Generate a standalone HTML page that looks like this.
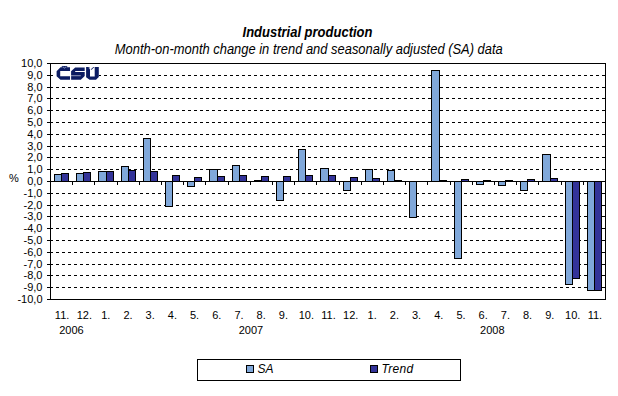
<!DOCTYPE html>
<html><head><meta charset="utf-8"><style>
html,body{margin:0;padding:0;background:#fff;}
svg{display:block;}
text{font-family:"Liberation Sans",sans-serif;}
</style></head><body>
<svg width="618" height="396" viewBox="0 0 618 396" shape-rendering="crispEdges">
<rect x="0" y="0" width="618" height="396" fill="#fff"/>
<path d="M56 287h3v1h-3zM62 287h3v1h-3zM68 287h3v1h-3zM74 287h3v1h-3zM80 287h3v1h-3zM86 287h3v1h-3zM92 287h3v1h-3zM98 287h3v1h-3zM104 287h3v1h-3zM110 287h3v1h-3zM116 287h3v1h-3zM122 287h3v1h-3zM128 287h3v1h-3zM134 287h3v1h-3zM140 287h3v1h-3zM146 287h3v1h-3zM152 287h3v1h-3zM158 287h3v1h-3zM164 287h3v1h-3zM170 287h3v1h-3zM176 287h3v1h-3zM182 287h3v1h-3zM188 287h3v1h-3zM194 287h3v1h-3zM200 287h3v1h-3zM206 287h3v1h-3zM212 287h3v1h-3zM218 287h3v1h-3zM224 287h3v1h-3zM230 287h3v1h-3zM236 287h3v1h-3zM242 287h3v1h-3zM248 287h3v1h-3zM254 287h3v1h-3zM260 287h3v1h-3zM266 287h3v1h-3zM272 287h3v1h-3zM278 287h3v1h-3zM284 287h3v1h-3zM290 287h3v1h-3zM296 287h3v1h-3zM302 287h3v1h-3zM308 287h3v1h-3zM314 287h3v1h-3zM320 287h3v1h-3zM326 287h3v1h-3zM332 287h3v1h-3zM338 287h3v1h-3zM344 287h3v1h-3zM350 287h3v1h-3zM356 287h3v1h-3zM362 287h3v1h-3zM368 287h3v1h-3zM374 287h3v1h-3zM380 287h3v1h-3zM386 287h3v1h-3zM392 287h3v1h-3zM398 287h3v1h-3zM404 287h3v1h-3zM410 287h3v1h-3zM416 287h3v1h-3zM422 287h3v1h-3zM428 287h3v1h-3zM434 287h3v1h-3zM440 287h3v1h-3zM446 287h3v1h-3zM452 287h3v1h-3zM458 287h3v1h-3zM464 287h3v1h-3zM470 287h3v1h-3zM476 287h3v1h-3zM482 287h3v1h-3zM488 287h3v1h-3zM494 287h3v1h-3zM500 287h3v1h-3zM506 287h3v1h-3zM512 287h3v1h-3zM518 287h3v1h-3zM524 287h3v1h-3zM530 287h3v1h-3zM536 287h3v1h-3zM542 287h3v1h-3zM548 287h3v1h-3zM554 287h3v1h-3zM560 287h3v1h-3zM566 287h3v1h-3zM572 287h3v1h-3zM578 287h3v1h-3zM584 287h3v1h-3zM590 287h3v1h-3zM596 287h3v1h-3zM602 287h3v1h-3z" fill="#000"/>
<path d="M56 275h3v1h-3zM62 275h3v1h-3zM68 275h3v1h-3zM74 275h3v1h-3zM80 275h3v1h-3zM86 275h3v1h-3zM92 275h3v1h-3zM98 275h3v1h-3zM104 275h3v1h-3zM110 275h3v1h-3zM116 275h3v1h-3zM122 275h3v1h-3zM128 275h3v1h-3zM134 275h3v1h-3zM140 275h3v1h-3zM146 275h3v1h-3zM152 275h3v1h-3zM158 275h3v1h-3zM164 275h3v1h-3zM170 275h3v1h-3zM176 275h3v1h-3zM182 275h3v1h-3zM188 275h3v1h-3zM194 275h3v1h-3zM200 275h3v1h-3zM206 275h3v1h-3zM212 275h3v1h-3zM218 275h3v1h-3zM224 275h3v1h-3zM230 275h3v1h-3zM236 275h3v1h-3zM242 275h3v1h-3zM248 275h3v1h-3zM254 275h3v1h-3zM260 275h3v1h-3zM266 275h3v1h-3zM272 275h3v1h-3zM278 275h3v1h-3zM284 275h3v1h-3zM290 275h3v1h-3zM296 275h3v1h-3zM302 275h3v1h-3zM308 275h3v1h-3zM314 275h3v1h-3zM320 275h3v1h-3zM326 275h3v1h-3zM332 275h3v1h-3zM338 275h3v1h-3zM344 275h3v1h-3zM350 275h3v1h-3zM356 275h3v1h-3zM362 275h3v1h-3zM368 275h3v1h-3zM374 275h3v1h-3zM380 275h3v1h-3zM386 275h3v1h-3zM392 275h3v1h-3zM398 275h3v1h-3zM404 275h3v1h-3zM410 275h3v1h-3zM416 275h3v1h-3zM422 275h3v1h-3zM428 275h3v1h-3zM434 275h3v1h-3zM440 275h3v1h-3zM446 275h3v1h-3zM452 275h3v1h-3zM458 275h3v1h-3zM464 275h3v1h-3zM470 275h3v1h-3zM476 275h3v1h-3zM482 275h3v1h-3zM488 275h3v1h-3zM494 275h3v1h-3zM500 275h3v1h-3zM506 275h3v1h-3zM512 275h3v1h-3zM518 275h3v1h-3zM524 275h3v1h-3zM530 275h3v1h-3zM536 275h3v1h-3zM542 275h3v1h-3zM548 275h3v1h-3zM554 275h3v1h-3zM560 275h3v1h-3zM566 275h3v1h-3zM572 275h3v1h-3zM578 275h3v1h-3zM584 275h3v1h-3zM590 275h3v1h-3zM596 275h3v1h-3zM602 275h3v1h-3z" fill="#000"/>
<path d="M56 264h3v1h-3zM62 264h3v1h-3zM68 264h3v1h-3zM74 264h3v1h-3zM80 264h3v1h-3zM86 264h3v1h-3zM92 264h3v1h-3zM98 264h3v1h-3zM104 264h3v1h-3zM110 264h3v1h-3zM116 264h3v1h-3zM122 264h3v1h-3zM128 264h3v1h-3zM134 264h3v1h-3zM140 264h3v1h-3zM146 264h3v1h-3zM152 264h3v1h-3zM158 264h3v1h-3zM164 264h3v1h-3zM170 264h3v1h-3zM176 264h3v1h-3zM182 264h3v1h-3zM188 264h3v1h-3zM194 264h3v1h-3zM200 264h3v1h-3zM206 264h3v1h-3zM212 264h3v1h-3zM218 264h3v1h-3zM224 264h3v1h-3zM230 264h3v1h-3zM236 264h3v1h-3zM242 264h3v1h-3zM248 264h3v1h-3zM254 264h3v1h-3zM260 264h3v1h-3zM266 264h3v1h-3zM272 264h3v1h-3zM278 264h3v1h-3zM284 264h3v1h-3zM290 264h3v1h-3zM296 264h3v1h-3zM302 264h3v1h-3zM308 264h3v1h-3zM314 264h3v1h-3zM320 264h3v1h-3zM326 264h3v1h-3zM332 264h3v1h-3zM338 264h3v1h-3zM344 264h3v1h-3zM350 264h3v1h-3zM356 264h3v1h-3zM362 264h3v1h-3zM368 264h3v1h-3zM374 264h3v1h-3zM380 264h3v1h-3zM386 264h3v1h-3zM392 264h3v1h-3zM398 264h3v1h-3zM404 264h3v1h-3zM410 264h3v1h-3zM416 264h3v1h-3zM422 264h3v1h-3zM428 264h3v1h-3zM434 264h3v1h-3zM440 264h3v1h-3zM446 264h3v1h-3zM452 264h3v1h-3zM458 264h3v1h-3zM464 264h3v1h-3zM470 264h3v1h-3zM476 264h3v1h-3zM482 264h3v1h-3zM488 264h3v1h-3zM494 264h3v1h-3zM500 264h3v1h-3zM506 264h3v1h-3zM512 264h3v1h-3zM518 264h3v1h-3zM524 264h3v1h-3zM530 264h3v1h-3zM536 264h3v1h-3zM542 264h3v1h-3zM548 264h3v1h-3zM554 264h3v1h-3zM560 264h3v1h-3zM566 264h3v1h-3zM572 264h3v1h-3zM578 264h3v1h-3zM584 264h3v1h-3zM590 264h3v1h-3zM596 264h3v1h-3zM602 264h3v1h-3z" fill="#000"/>
<path d="M56 252h3v1h-3zM62 252h3v1h-3zM68 252h3v1h-3zM74 252h3v1h-3zM80 252h3v1h-3zM86 252h3v1h-3zM92 252h3v1h-3zM98 252h3v1h-3zM104 252h3v1h-3zM110 252h3v1h-3zM116 252h3v1h-3zM122 252h3v1h-3zM128 252h3v1h-3zM134 252h3v1h-3zM140 252h3v1h-3zM146 252h3v1h-3zM152 252h3v1h-3zM158 252h3v1h-3zM164 252h3v1h-3zM170 252h3v1h-3zM176 252h3v1h-3zM182 252h3v1h-3zM188 252h3v1h-3zM194 252h3v1h-3zM200 252h3v1h-3zM206 252h3v1h-3zM212 252h3v1h-3zM218 252h3v1h-3zM224 252h3v1h-3zM230 252h3v1h-3zM236 252h3v1h-3zM242 252h3v1h-3zM248 252h3v1h-3zM254 252h3v1h-3zM260 252h3v1h-3zM266 252h3v1h-3zM272 252h3v1h-3zM278 252h3v1h-3zM284 252h3v1h-3zM290 252h3v1h-3zM296 252h3v1h-3zM302 252h3v1h-3zM308 252h3v1h-3zM314 252h3v1h-3zM320 252h3v1h-3zM326 252h3v1h-3zM332 252h3v1h-3zM338 252h3v1h-3zM344 252h3v1h-3zM350 252h3v1h-3zM356 252h3v1h-3zM362 252h3v1h-3zM368 252h3v1h-3zM374 252h3v1h-3zM380 252h3v1h-3zM386 252h3v1h-3zM392 252h3v1h-3zM398 252h3v1h-3zM404 252h3v1h-3zM410 252h3v1h-3zM416 252h3v1h-3zM422 252h3v1h-3zM428 252h3v1h-3zM434 252h3v1h-3zM440 252h3v1h-3zM446 252h3v1h-3zM452 252h3v1h-3zM458 252h3v1h-3zM464 252h3v1h-3zM470 252h3v1h-3zM476 252h3v1h-3zM482 252h3v1h-3zM488 252h3v1h-3zM494 252h3v1h-3zM500 252h3v1h-3zM506 252h3v1h-3zM512 252h3v1h-3zM518 252h3v1h-3zM524 252h3v1h-3zM530 252h3v1h-3zM536 252h3v1h-3zM542 252h3v1h-3zM548 252h3v1h-3zM554 252h3v1h-3zM560 252h3v1h-3zM566 252h3v1h-3zM572 252h3v1h-3zM578 252h3v1h-3zM584 252h3v1h-3zM590 252h3v1h-3zM596 252h3v1h-3zM602 252h3v1h-3z" fill="#000"/>
<path d="M56 240h3v1h-3zM62 240h3v1h-3zM68 240h3v1h-3zM74 240h3v1h-3zM80 240h3v1h-3zM86 240h3v1h-3zM92 240h3v1h-3zM98 240h3v1h-3zM104 240h3v1h-3zM110 240h3v1h-3zM116 240h3v1h-3zM122 240h3v1h-3zM128 240h3v1h-3zM134 240h3v1h-3zM140 240h3v1h-3zM146 240h3v1h-3zM152 240h3v1h-3zM158 240h3v1h-3zM164 240h3v1h-3zM170 240h3v1h-3zM176 240h3v1h-3zM182 240h3v1h-3zM188 240h3v1h-3zM194 240h3v1h-3zM200 240h3v1h-3zM206 240h3v1h-3zM212 240h3v1h-3zM218 240h3v1h-3zM224 240h3v1h-3zM230 240h3v1h-3zM236 240h3v1h-3zM242 240h3v1h-3zM248 240h3v1h-3zM254 240h3v1h-3zM260 240h3v1h-3zM266 240h3v1h-3zM272 240h3v1h-3zM278 240h3v1h-3zM284 240h3v1h-3zM290 240h3v1h-3zM296 240h3v1h-3zM302 240h3v1h-3zM308 240h3v1h-3zM314 240h3v1h-3zM320 240h3v1h-3zM326 240h3v1h-3zM332 240h3v1h-3zM338 240h3v1h-3zM344 240h3v1h-3zM350 240h3v1h-3zM356 240h3v1h-3zM362 240h3v1h-3zM368 240h3v1h-3zM374 240h3v1h-3zM380 240h3v1h-3zM386 240h3v1h-3zM392 240h3v1h-3zM398 240h3v1h-3zM404 240h3v1h-3zM410 240h3v1h-3zM416 240h3v1h-3zM422 240h3v1h-3zM428 240h3v1h-3zM434 240h3v1h-3zM440 240h3v1h-3zM446 240h3v1h-3zM452 240h3v1h-3zM458 240h3v1h-3zM464 240h3v1h-3zM470 240h3v1h-3zM476 240h3v1h-3zM482 240h3v1h-3zM488 240h3v1h-3zM494 240h3v1h-3zM500 240h3v1h-3zM506 240h3v1h-3zM512 240h3v1h-3zM518 240h3v1h-3zM524 240h3v1h-3zM530 240h3v1h-3zM536 240h3v1h-3zM542 240h3v1h-3zM548 240h3v1h-3zM554 240h3v1h-3zM560 240h3v1h-3zM566 240h3v1h-3zM572 240h3v1h-3zM578 240h3v1h-3zM584 240h3v1h-3zM590 240h3v1h-3zM596 240h3v1h-3zM602 240h3v1h-3z" fill="#000"/>
<path d="M56 228h3v1h-3zM62 228h3v1h-3zM68 228h3v1h-3zM74 228h3v1h-3zM80 228h3v1h-3zM86 228h3v1h-3zM92 228h3v1h-3zM98 228h3v1h-3zM104 228h3v1h-3zM110 228h3v1h-3zM116 228h3v1h-3zM122 228h3v1h-3zM128 228h3v1h-3zM134 228h3v1h-3zM140 228h3v1h-3zM146 228h3v1h-3zM152 228h3v1h-3zM158 228h3v1h-3zM164 228h3v1h-3zM170 228h3v1h-3zM176 228h3v1h-3zM182 228h3v1h-3zM188 228h3v1h-3zM194 228h3v1h-3zM200 228h3v1h-3zM206 228h3v1h-3zM212 228h3v1h-3zM218 228h3v1h-3zM224 228h3v1h-3zM230 228h3v1h-3zM236 228h3v1h-3zM242 228h3v1h-3zM248 228h3v1h-3zM254 228h3v1h-3zM260 228h3v1h-3zM266 228h3v1h-3zM272 228h3v1h-3zM278 228h3v1h-3zM284 228h3v1h-3zM290 228h3v1h-3zM296 228h3v1h-3zM302 228h3v1h-3zM308 228h3v1h-3zM314 228h3v1h-3zM320 228h3v1h-3zM326 228h3v1h-3zM332 228h3v1h-3zM338 228h3v1h-3zM344 228h3v1h-3zM350 228h3v1h-3zM356 228h3v1h-3zM362 228h3v1h-3zM368 228h3v1h-3zM374 228h3v1h-3zM380 228h3v1h-3zM386 228h3v1h-3zM392 228h3v1h-3zM398 228h3v1h-3zM404 228h3v1h-3zM410 228h3v1h-3zM416 228h3v1h-3zM422 228h3v1h-3zM428 228h3v1h-3zM434 228h3v1h-3zM440 228h3v1h-3zM446 228h3v1h-3zM452 228h3v1h-3zM458 228h3v1h-3zM464 228h3v1h-3zM470 228h3v1h-3zM476 228h3v1h-3zM482 228h3v1h-3zM488 228h3v1h-3zM494 228h3v1h-3zM500 228h3v1h-3zM506 228h3v1h-3zM512 228h3v1h-3zM518 228h3v1h-3zM524 228h3v1h-3zM530 228h3v1h-3zM536 228h3v1h-3zM542 228h3v1h-3zM548 228h3v1h-3zM554 228h3v1h-3zM560 228h3v1h-3zM566 228h3v1h-3zM572 228h3v1h-3zM578 228h3v1h-3zM584 228h3v1h-3zM590 228h3v1h-3zM596 228h3v1h-3zM602 228h3v1h-3z" fill="#000"/>
<path d="M56 216h3v1h-3zM62 216h3v1h-3zM68 216h3v1h-3zM74 216h3v1h-3zM80 216h3v1h-3zM86 216h3v1h-3zM92 216h3v1h-3zM98 216h3v1h-3zM104 216h3v1h-3zM110 216h3v1h-3zM116 216h3v1h-3zM122 216h3v1h-3zM128 216h3v1h-3zM134 216h3v1h-3zM140 216h3v1h-3zM146 216h3v1h-3zM152 216h3v1h-3zM158 216h3v1h-3zM164 216h3v1h-3zM170 216h3v1h-3zM176 216h3v1h-3zM182 216h3v1h-3zM188 216h3v1h-3zM194 216h3v1h-3zM200 216h3v1h-3zM206 216h3v1h-3zM212 216h3v1h-3zM218 216h3v1h-3zM224 216h3v1h-3zM230 216h3v1h-3zM236 216h3v1h-3zM242 216h3v1h-3zM248 216h3v1h-3zM254 216h3v1h-3zM260 216h3v1h-3zM266 216h3v1h-3zM272 216h3v1h-3zM278 216h3v1h-3zM284 216h3v1h-3zM290 216h3v1h-3zM296 216h3v1h-3zM302 216h3v1h-3zM308 216h3v1h-3zM314 216h3v1h-3zM320 216h3v1h-3zM326 216h3v1h-3zM332 216h3v1h-3zM338 216h3v1h-3zM344 216h3v1h-3zM350 216h3v1h-3zM356 216h3v1h-3zM362 216h3v1h-3zM368 216h3v1h-3zM374 216h3v1h-3zM380 216h3v1h-3zM386 216h3v1h-3zM392 216h3v1h-3zM398 216h3v1h-3zM404 216h3v1h-3zM410 216h3v1h-3zM416 216h3v1h-3zM422 216h3v1h-3zM428 216h3v1h-3zM434 216h3v1h-3zM440 216h3v1h-3zM446 216h3v1h-3zM452 216h3v1h-3zM458 216h3v1h-3zM464 216h3v1h-3zM470 216h3v1h-3zM476 216h3v1h-3zM482 216h3v1h-3zM488 216h3v1h-3zM494 216h3v1h-3zM500 216h3v1h-3zM506 216h3v1h-3zM512 216h3v1h-3zM518 216h3v1h-3zM524 216h3v1h-3zM530 216h3v1h-3zM536 216h3v1h-3zM542 216h3v1h-3zM548 216h3v1h-3zM554 216h3v1h-3zM560 216h3v1h-3zM566 216h3v1h-3zM572 216h3v1h-3zM578 216h3v1h-3zM584 216h3v1h-3zM590 216h3v1h-3zM596 216h3v1h-3zM602 216h3v1h-3z" fill="#000"/>
<path d="M56 205h3v1h-3zM62 205h3v1h-3zM68 205h3v1h-3zM74 205h3v1h-3zM80 205h3v1h-3zM86 205h3v1h-3zM92 205h3v1h-3zM98 205h3v1h-3zM104 205h3v1h-3zM110 205h3v1h-3zM116 205h3v1h-3zM122 205h3v1h-3zM128 205h3v1h-3zM134 205h3v1h-3zM140 205h3v1h-3zM146 205h3v1h-3zM152 205h3v1h-3zM158 205h3v1h-3zM164 205h3v1h-3zM170 205h3v1h-3zM176 205h3v1h-3zM182 205h3v1h-3zM188 205h3v1h-3zM194 205h3v1h-3zM200 205h3v1h-3zM206 205h3v1h-3zM212 205h3v1h-3zM218 205h3v1h-3zM224 205h3v1h-3zM230 205h3v1h-3zM236 205h3v1h-3zM242 205h3v1h-3zM248 205h3v1h-3zM254 205h3v1h-3zM260 205h3v1h-3zM266 205h3v1h-3zM272 205h3v1h-3zM278 205h3v1h-3zM284 205h3v1h-3zM290 205h3v1h-3zM296 205h3v1h-3zM302 205h3v1h-3zM308 205h3v1h-3zM314 205h3v1h-3zM320 205h3v1h-3zM326 205h3v1h-3zM332 205h3v1h-3zM338 205h3v1h-3zM344 205h3v1h-3zM350 205h3v1h-3zM356 205h3v1h-3zM362 205h3v1h-3zM368 205h3v1h-3zM374 205h3v1h-3zM380 205h3v1h-3zM386 205h3v1h-3zM392 205h3v1h-3zM398 205h3v1h-3zM404 205h3v1h-3zM410 205h3v1h-3zM416 205h3v1h-3zM422 205h3v1h-3zM428 205h3v1h-3zM434 205h3v1h-3zM440 205h3v1h-3zM446 205h3v1h-3zM452 205h3v1h-3zM458 205h3v1h-3zM464 205h3v1h-3zM470 205h3v1h-3zM476 205h3v1h-3zM482 205h3v1h-3zM488 205h3v1h-3zM494 205h3v1h-3zM500 205h3v1h-3zM506 205h3v1h-3zM512 205h3v1h-3zM518 205h3v1h-3zM524 205h3v1h-3zM530 205h3v1h-3zM536 205h3v1h-3zM542 205h3v1h-3zM548 205h3v1h-3zM554 205h3v1h-3zM560 205h3v1h-3zM566 205h3v1h-3zM572 205h3v1h-3zM578 205h3v1h-3zM584 205h3v1h-3zM590 205h3v1h-3zM596 205h3v1h-3zM602 205h3v1h-3z" fill="#000"/>
<path d="M56 193h3v1h-3zM62 193h3v1h-3zM68 193h3v1h-3zM74 193h3v1h-3zM80 193h3v1h-3zM86 193h3v1h-3zM92 193h3v1h-3zM98 193h3v1h-3zM104 193h3v1h-3zM110 193h3v1h-3zM116 193h3v1h-3zM122 193h3v1h-3zM128 193h3v1h-3zM134 193h3v1h-3zM140 193h3v1h-3zM146 193h3v1h-3zM152 193h3v1h-3zM158 193h3v1h-3zM164 193h3v1h-3zM170 193h3v1h-3zM176 193h3v1h-3zM182 193h3v1h-3zM188 193h3v1h-3zM194 193h3v1h-3zM200 193h3v1h-3zM206 193h3v1h-3zM212 193h3v1h-3zM218 193h3v1h-3zM224 193h3v1h-3zM230 193h3v1h-3zM236 193h3v1h-3zM242 193h3v1h-3zM248 193h3v1h-3zM254 193h3v1h-3zM260 193h3v1h-3zM266 193h3v1h-3zM272 193h3v1h-3zM278 193h3v1h-3zM284 193h3v1h-3zM290 193h3v1h-3zM296 193h3v1h-3zM302 193h3v1h-3zM308 193h3v1h-3zM314 193h3v1h-3zM320 193h3v1h-3zM326 193h3v1h-3zM332 193h3v1h-3zM338 193h3v1h-3zM344 193h3v1h-3zM350 193h3v1h-3zM356 193h3v1h-3zM362 193h3v1h-3zM368 193h3v1h-3zM374 193h3v1h-3zM380 193h3v1h-3zM386 193h3v1h-3zM392 193h3v1h-3zM398 193h3v1h-3zM404 193h3v1h-3zM410 193h3v1h-3zM416 193h3v1h-3zM422 193h3v1h-3zM428 193h3v1h-3zM434 193h3v1h-3zM440 193h3v1h-3zM446 193h3v1h-3zM452 193h3v1h-3zM458 193h3v1h-3zM464 193h3v1h-3zM470 193h3v1h-3zM476 193h3v1h-3zM482 193h3v1h-3zM488 193h3v1h-3zM494 193h3v1h-3zM500 193h3v1h-3zM506 193h3v1h-3zM512 193h3v1h-3zM518 193h3v1h-3zM524 193h3v1h-3zM530 193h3v1h-3zM536 193h3v1h-3zM542 193h3v1h-3zM548 193h3v1h-3zM554 193h3v1h-3zM560 193h3v1h-3zM566 193h3v1h-3zM572 193h3v1h-3zM578 193h3v1h-3zM584 193h3v1h-3zM590 193h3v1h-3zM596 193h3v1h-3zM602 193h3v1h-3z" fill="#000"/>
<path d="M56 169h3v1h-3zM62 169h3v1h-3zM68 169h3v1h-3zM74 169h3v1h-3zM80 169h3v1h-3zM86 169h3v1h-3zM92 169h3v1h-3zM98 169h3v1h-3zM104 169h3v1h-3zM110 169h3v1h-3zM116 169h3v1h-3zM122 169h3v1h-3zM128 169h3v1h-3zM134 169h3v1h-3zM140 169h3v1h-3zM146 169h3v1h-3zM152 169h3v1h-3zM158 169h3v1h-3zM164 169h3v1h-3zM170 169h3v1h-3zM176 169h3v1h-3zM182 169h3v1h-3zM188 169h3v1h-3zM194 169h3v1h-3zM200 169h3v1h-3zM206 169h3v1h-3zM212 169h3v1h-3zM218 169h3v1h-3zM224 169h3v1h-3zM230 169h3v1h-3zM236 169h3v1h-3zM242 169h3v1h-3zM248 169h3v1h-3zM254 169h3v1h-3zM260 169h3v1h-3zM266 169h3v1h-3zM272 169h3v1h-3zM278 169h3v1h-3zM284 169h3v1h-3zM290 169h3v1h-3zM296 169h3v1h-3zM302 169h3v1h-3zM308 169h3v1h-3zM314 169h3v1h-3zM320 169h3v1h-3zM326 169h3v1h-3zM332 169h3v1h-3zM338 169h3v1h-3zM344 169h3v1h-3zM350 169h3v1h-3zM356 169h3v1h-3zM362 169h3v1h-3zM368 169h3v1h-3zM374 169h3v1h-3zM380 169h3v1h-3zM386 169h3v1h-3zM392 169h3v1h-3zM398 169h3v1h-3zM404 169h3v1h-3zM410 169h3v1h-3zM416 169h3v1h-3zM422 169h3v1h-3zM428 169h3v1h-3zM434 169h3v1h-3zM440 169h3v1h-3zM446 169h3v1h-3zM452 169h3v1h-3zM458 169h3v1h-3zM464 169h3v1h-3zM470 169h3v1h-3zM476 169h3v1h-3zM482 169h3v1h-3zM488 169h3v1h-3zM494 169h3v1h-3zM500 169h3v1h-3zM506 169h3v1h-3zM512 169h3v1h-3zM518 169h3v1h-3zM524 169h3v1h-3zM530 169h3v1h-3zM536 169h3v1h-3zM542 169h3v1h-3zM548 169h3v1h-3zM554 169h3v1h-3zM560 169h3v1h-3zM566 169h3v1h-3zM572 169h3v1h-3zM578 169h3v1h-3zM584 169h3v1h-3zM590 169h3v1h-3zM596 169h3v1h-3zM602 169h3v1h-3z" fill="#000"/>
<path d="M56 157h3v1h-3zM62 157h3v1h-3zM68 157h3v1h-3zM74 157h3v1h-3zM80 157h3v1h-3zM86 157h3v1h-3zM92 157h3v1h-3zM98 157h3v1h-3zM104 157h3v1h-3zM110 157h3v1h-3zM116 157h3v1h-3zM122 157h3v1h-3zM128 157h3v1h-3zM134 157h3v1h-3zM140 157h3v1h-3zM146 157h3v1h-3zM152 157h3v1h-3zM158 157h3v1h-3zM164 157h3v1h-3zM170 157h3v1h-3zM176 157h3v1h-3zM182 157h3v1h-3zM188 157h3v1h-3zM194 157h3v1h-3zM200 157h3v1h-3zM206 157h3v1h-3zM212 157h3v1h-3zM218 157h3v1h-3zM224 157h3v1h-3zM230 157h3v1h-3zM236 157h3v1h-3zM242 157h3v1h-3zM248 157h3v1h-3zM254 157h3v1h-3zM260 157h3v1h-3zM266 157h3v1h-3zM272 157h3v1h-3zM278 157h3v1h-3zM284 157h3v1h-3zM290 157h3v1h-3zM296 157h3v1h-3zM302 157h3v1h-3zM308 157h3v1h-3zM314 157h3v1h-3zM320 157h3v1h-3zM326 157h3v1h-3zM332 157h3v1h-3zM338 157h3v1h-3zM344 157h3v1h-3zM350 157h3v1h-3zM356 157h3v1h-3zM362 157h3v1h-3zM368 157h3v1h-3zM374 157h3v1h-3zM380 157h3v1h-3zM386 157h3v1h-3zM392 157h3v1h-3zM398 157h3v1h-3zM404 157h3v1h-3zM410 157h3v1h-3zM416 157h3v1h-3zM422 157h3v1h-3zM428 157h3v1h-3zM434 157h3v1h-3zM440 157h3v1h-3zM446 157h3v1h-3zM452 157h3v1h-3zM458 157h3v1h-3zM464 157h3v1h-3zM470 157h3v1h-3zM476 157h3v1h-3zM482 157h3v1h-3zM488 157h3v1h-3zM494 157h3v1h-3zM500 157h3v1h-3zM506 157h3v1h-3zM512 157h3v1h-3zM518 157h3v1h-3zM524 157h3v1h-3zM530 157h3v1h-3zM536 157h3v1h-3zM542 157h3v1h-3zM548 157h3v1h-3zM554 157h3v1h-3zM560 157h3v1h-3zM566 157h3v1h-3zM572 157h3v1h-3zM578 157h3v1h-3zM584 157h3v1h-3zM590 157h3v1h-3zM596 157h3v1h-3zM602 157h3v1h-3z" fill="#000"/>
<path d="M56 146h3v1h-3zM62 146h3v1h-3zM68 146h3v1h-3zM74 146h3v1h-3zM80 146h3v1h-3zM86 146h3v1h-3zM92 146h3v1h-3zM98 146h3v1h-3zM104 146h3v1h-3zM110 146h3v1h-3zM116 146h3v1h-3zM122 146h3v1h-3zM128 146h3v1h-3zM134 146h3v1h-3zM140 146h3v1h-3zM146 146h3v1h-3zM152 146h3v1h-3zM158 146h3v1h-3zM164 146h3v1h-3zM170 146h3v1h-3zM176 146h3v1h-3zM182 146h3v1h-3zM188 146h3v1h-3zM194 146h3v1h-3zM200 146h3v1h-3zM206 146h3v1h-3zM212 146h3v1h-3zM218 146h3v1h-3zM224 146h3v1h-3zM230 146h3v1h-3zM236 146h3v1h-3zM242 146h3v1h-3zM248 146h3v1h-3zM254 146h3v1h-3zM260 146h3v1h-3zM266 146h3v1h-3zM272 146h3v1h-3zM278 146h3v1h-3zM284 146h3v1h-3zM290 146h3v1h-3zM296 146h3v1h-3zM302 146h3v1h-3zM308 146h3v1h-3zM314 146h3v1h-3zM320 146h3v1h-3zM326 146h3v1h-3zM332 146h3v1h-3zM338 146h3v1h-3zM344 146h3v1h-3zM350 146h3v1h-3zM356 146h3v1h-3zM362 146h3v1h-3zM368 146h3v1h-3zM374 146h3v1h-3zM380 146h3v1h-3zM386 146h3v1h-3zM392 146h3v1h-3zM398 146h3v1h-3zM404 146h3v1h-3zM410 146h3v1h-3zM416 146h3v1h-3zM422 146h3v1h-3zM428 146h3v1h-3zM434 146h3v1h-3zM440 146h3v1h-3zM446 146h3v1h-3zM452 146h3v1h-3zM458 146h3v1h-3zM464 146h3v1h-3zM470 146h3v1h-3zM476 146h3v1h-3zM482 146h3v1h-3zM488 146h3v1h-3zM494 146h3v1h-3zM500 146h3v1h-3zM506 146h3v1h-3zM512 146h3v1h-3zM518 146h3v1h-3zM524 146h3v1h-3zM530 146h3v1h-3zM536 146h3v1h-3zM542 146h3v1h-3zM548 146h3v1h-3zM554 146h3v1h-3zM560 146h3v1h-3zM566 146h3v1h-3zM572 146h3v1h-3zM578 146h3v1h-3zM584 146h3v1h-3zM590 146h3v1h-3zM596 146h3v1h-3zM602 146h3v1h-3z" fill="#000"/>
<path d="M56 134h3v1h-3zM62 134h3v1h-3zM68 134h3v1h-3zM74 134h3v1h-3zM80 134h3v1h-3zM86 134h3v1h-3zM92 134h3v1h-3zM98 134h3v1h-3zM104 134h3v1h-3zM110 134h3v1h-3zM116 134h3v1h-3zM122 134h3v1h-3zM128 134h3v1h-3zM134 134h3v1h-3zM140 134h3v1h-3zM146 134h3v1h-3zM152 134h3v1h-3zM158 134h3v1h-3zM164 134h3v1h-3zM170 134h3v1h-3zM176 134h3v1h-3zM182 134h3v1h-3zM188 134h3v1h-3zM194 134h3v1h-3zM200 134h3v1h-3zM206 134h3v1h-3zM212 134h3v1h-3zM218 134h3v1h-3zM224 134h3v1h-3zM230 134h3v1h-3zM236 134h3v1h-3zM242 134h3v1h-3zM248 134h3v1h-3zM254 134h3v1h-3zM260 134h3v1h-3zM266 134h3v1h-3zM272 134h3v1h-3zM278 134h3v1h-3zM284 134h3v1h-3zM290 134h3v1h-3zM296 134h3v1h-3zM302 134h3v1h-3zM308 134h3v1h-3zM314 134h3v1h-3zM320 134h3v1h-3zM326 134h3v1h-3zM332 134h3v1h-3zM338 134h3v1h-3zM344 134h3v1h-3zM350 134h3v1h-3zM356 134h3v1h-3zM362 134h3v1h-3zM368 134h3v1h-3zM374 134h3v1h-3zM380 134h3v1h-3zM386 134h3v1h-3zM392 134h3v1h-3zM398 134h3v1h-3zM404 134h3v1h-3zM410 134h3v1h-3zM416 134h3v1h-3zM422 134h3v1h-3zM428 134h3v1h-3zM434 134h3v1h-3zM440 134h3v1h-3zM446 134h3v1h-3zM452 134h3v1h-3zM458 134h3v1h-3zM464 134h3v1h-3zM470 134h3v1h-3zM476 134h3v1h-3zM482 134h3v1h-3zM488 134h3v1h-3zM494 134h3v1h-3zM500 134h3v1h-3zM506 134h3v1h-3zM512 134h3v1h-3zM518 134h3v1h-3zM524 134h3v1h-3zM530 134h3v1h-3zM536 134h3v1h-3zM542 134h3v1h-3zM548 134h3v1h-3zM554 134h3v1h-3zM560 134h3v1h-3zM566 134h3v1h-3zM572 134h3v1h-3zM578 134h3v1h-3zM584 134h3v1h-3zM590 134h3v1h-3zM596 134h3v1h-3zM602 134h3v1h-3z" fill="#000"/>
<path d="M56 122h3v1h-3zM62 122h3v1h-3zM68 122h3v1h-3zM74 122h3v1h-3zM80 122h3v1h-3zM86 122h3v1h-3zM92 122h3v1h-3zM98 122h3v1h-3zM104 122h3v1h-3zM110 122h3v1h-3zM116 122h3v1h-3zM122 122h3v1h-3zM128 122h3v1h-3zM134 122h3v1h-3zM140 122h3v1h-3zM146 122h3v1h-3zM152 122h3v1h-3zM158 122h3v1h-3zM164 122h3v1h-3zM170 122h3v1h-3zM176 122h3v1h-3zM182 122h3v1h-3zM188 122h3v1h-3zM194 122h3v1h-3zM200 122h3v1h-3zM206 122h3v1h-3zM212 122h3v1h-3zM218 122h3v1h-3zM224 122h3v1h-3zM230 122h3v1h-3zM236 122h3v1h-3zM242 122h3v1h-3zM248 122h3v1h-3zM254 122h3v1h-3zM260 122h3v1h-3zM266 122h3v1h-3zM272 122h3v1h-3zM278 122h3v1h-3zM284 122h3v1h-3zM290 122h3v1h-3zM296 122h3v1h-3zM302 122h3v1h-3zM308 122h3v1h-3zM314 122h3v1h-3zM320 122h3v1h-3zM326 122h3v1h-3zM332 122h3v1h-3zM338 122h3v1h-3zM344 122h3v1h-3zM350 122h3v1h-3zM356 122h3v1h-3zM362 122h3v1h-3zM368 122h3v1h-3zM374 122h3v1h-3zM380 122h3v1h-3zM386 122h3v1h-3zM392 122h3v1h-3zM398 122h3v1h-3zM404 122h3v1h-3zM410 122h3v1h-3zM416 122h3v1h-3zM422 122h3v1h-3zM428 122h3v1h-3zM434 122h3v1h-3zM440 122h3v1h-3zM446 122h3v1h-3zM452 122h3v1h-3zM458 122h3v1h-3zM464 122h3v1h-3zM470 122h3v1h-3zM476 122h3v1h-3zM482 122h3v1h-3zM488 122h3v1h-3zM494 122h3v1h-3zM500 122h3v1h-3zM506 122h3v1h-3zM512 122h3v1h-3zM518 122h3v1h-3zM524 122h3v1h-3zM530 122h3v1h-3zM536 122h3v1h-3zM542 122h3v1h-3zM548 122h3v1h-3zM554 122h3v1h-3zM560 122h3v1h-3zM566 122h3v1h-3zM572 122h3v1h-3zM578 122h3v1h-3zM584 122h3v1h-3zM590 122h3v1h-3zM596 122h3v1h-3zM602 122h3v1h-3z" fill="#000"/>
<path d="M56 110h3v1h-3zM62 110h3v1h-3zM68 110h3v1h-3zM74 110h3v1h-3zM80 110h3v1h-3zM86 110h3v1h-3zM92 110h3v1h-3zM98 110h3v1h-3zM104 110h3v1h-3zM110 110h3v1h-3zM116 110h3v1h-3zM122 110h3v1h-3zM128 110h3v1h-3zM134 110h3v1h-3zM140 110h3v1h-3zM146 110h3v1h-3zM152 110h3v1h-3zM158 110h3v1h-3zM164 110h3v1h-3zM170 110h3v1h-3zM176 110h3v1h-3zM182 110h3v1h-3zM188 110h3v1h-3zM194 110h3v1h-3zM200 110h3v1h-3zM206 110h3v1h-3zM212 110h3v1h-3zM218 110h3v1h-3zM224 110h3v1h-3zM230 110h3v1h-3zM236 110h3v1h-3zM242 110h3v1h-3zM248 110h3v1h-3zM254 110h3v1h-3zM260 110h3v1h-3zM266 110h3v1h-3zM272 110h3v1h-3zM278 110h3v1h-3zM284 110h3v1h-3zM290 110h3v1h-3zM296 110h3v1h-3zM302 110h3v1h-3zM308 110h3v1h-3zM314 110h3v1h-3zM320 110h3v1h-3zM326 110h3v1h-3zM332 110h3v1h-3zM338 110h3v1h-3zM344 110h3v1h-3zM350 110h3v1h-3zM356 110h3v1h-3zM362 110h3v1h-3zM368 110h3v1h-3zM374 110h3v1h-3zM380 110h3v1h-3zM386 110h3v1h-3zM392 110h3v1h-3zM398 110h3v1h-3zM404 110h3v1h-3zM410 110h3v1h-3zM416 110h3v1h-3zM422 110h3v1h-3zM428 110h3v1h-3zM434 110h3v1h-3zM440 110h3v1h-3zM446 110h3v1h-3zM452 110h3v1h-3zM458 110h3v1h-3zM464 110h3v1h-3zM470 110h3v1h-3zM476 110h3v1h-3zM482 110h3v1h-3zM488 110h3v1h-3zM494 110h3v1h-3zM500 110h3v1h-3zM506 110h3v1h-3zM512 110h3v1h-3zM518 110h3v1h-3zM524 110h3v1h-3zM530 110h3v1h-3zM536 110h3v1h-3zM542 110h3v1h-3zM548 110h3v1h-3zM554 110h3v1h-3zM560 110h3v1h-3zM566 110h3v1h-3zM572 110h3v1h-3zM578 110h3v1h-3zM584 110h3v1h-3zM590 110h3v1h-3zM596 110h3v1h-3zM602 110h3v1h-3z" fill="#000"/>
<path d="M56 98h3v1h-3zM62 98h3v1h-3zM68 98h3v1h-3zM74 98h3v1h-3zM80 98h3v1h-3zM86 98h3v1h-3zM92 98h3v1h-3zM98 98h3v1h-3zM104 98h3v1h-3zM110 98h3v1h-3zM116 98h3v1h-3zM122 98h3v1h-3zM128 98h3v1h-3zM134 98h3v1h-3zM140 98h3v1h-3zM146 98h3v1h-3zM152 98h3v1h-3zM158 98h3v1h-3zM164 98h3v1h-3zM170 98h3v1h-3zM176 98h3v1h-3zM182 98h3v1h-3zM188 98h3v1h-3zM194 98h3v1h-3zM200 98h3v1h-3zM206 98h3v1h-3zM212 98h3v1h-3zM218 98h3v1h-3zM224 98h3v1h-3zM230 98h3v1h-3zM236 98h3v1h-3zM242 98h3v1h-3zM248 98h3v1h-3zM254 98h3v1h-3zM260 98h3v1h-3zM266 98h3v1h-3zM272 98h3v1h-3zM278 98h3v1h-3zM284 98h3v1h-3zM290 98h3v1h-3zM296 98h3v1h-3zM302 98h3v1h-3zM308 98h3v1h-3zM314 98h3v1h-3zM320 98h3v1h-3zM326 98h3v1h-3zM332 98h3v1h-3zM338 98h3v1h-3zM344 98h3v1h-3zM350 98h3v1h-3zM356 98h3v1h-3zM362 98h3v1h-3zM368 98h3v1h-3zM374 98h3v1h-3zM380 98h3v1h-3zM386 98h3v1h-3zM392 98h3v1h-3zM398 98h3v1h-3zM404 98h3v1h-3zM410 98h3v1h-3zM416 98h3v1h-3zM422 98h3v1h-3zM428 98h3v1h-3zM434 98h3v1h-3zM440 98h3v1h-3zM446 98h3v1h-3zM452 98h3v1h-3zM458 98h3v1h-3zM464 98h3v1h-3zM470 98h3v1h-3zM476 98h3v1h-3zM482 98h3v1h-3zM488 98h3v1h-3zM494 98h3v1h-3zM500 98h3v1h-3zM506 98h3v1h-3zM512 98h3v1h-3zM518 98h3v1h-3zM524 98h3v1h-3zM530 98h3v1h-3zM536 98h3v1h-3zM542 98h3v1h-3zM548 98h3v1h-3zM554 98h3v1h-3zM560 98h3v1h-3zM566 98h3v1h-3zM572 98h3v1h-3zM578 98h3v1h-3zM584 98h3v1h-3zM590 98h3v1h-3zM596 98h3v1h-3zM602 98h3v1h-3z" fill="#000"/>
<path d="M56 87h3v1h-3zM62 87h3v1h-3zM68 87h3v1h-3zM74 87h3v1h-3zM80 87h3v1h-3zM86 87h3v1h-3zM92 87h3v1h-3zM98 87h3v1h-3zM104 87h3v1h-3zM110 87h3v1h-3zM116 87h3v1h-3zM122 87h3v1h-3zM128 87h3v1h-3zM134 87h3v1h-3zM140 87h3v1h-3zM146 87h3v1h-3zM152 87h3v1h-3zM158 87h3v1h-3zM164 87h3v1h-3zM170 87h3v1h-3zM176 87h3v1h-3zM182 87h3v1h-3zM188 87h3v1h-3zM194 87h3v1h-3zM200 87h3v1h-3zM206 87h3v1h-3zM212 87h3v1h-3zM218 87h3v1h-3zM224 87h3v1h-3zM230 87h3v1h-3zM236 87h3v1h-3zM242 87h3v1h-3zM248 87h3v1h-3zM254 87h3v1h-3zM260 87h3v1h-3zM266 87h3v1h-3zM272 87h3v1h-3zM278 87h3v1h-3zM284 87h3v1h-3zM290 87h3v1h-3zM296 87h3v1h-3zM302 87h3v1h-3zM308 87h3v1h-3zM314 87h3v1h-3zM320 87h3v1h-3zM326 87h3v1h-3zM332 87h3v1h-3zM338 87h3v1h-3zM344 87h3v1h-3zM350 87h3v1h-3zM356 87h3v1h-3zM362 87h3v1h-3zM368 87h3v1h-3zM374 87h3v1h-3zM380 87h3v1h-3zM386 87h3v1h-3zM392 87h3v1h-3zM398 87h3v1h-3zM404 87h3v1h-3zM410 87h3v1h-3zM416 87h3v1h-3zM422 87h3v1h-3zM428 87h3v1h-3zM434 87h3v1h-3zM440 87h3v1h-3zM446 87h3v1h-3zM452 87h3v1h-3zM458 87h3v1h-3zM464 87h3v1h-3zM470 87h3v1h-3zM476 87h3v1h-3zM482 87h3v1h-3zM488 87h3v1h-3zM494 87h3v1h-3zM500 87h3v1h-3zM506 87h3v1h-3zM512 87h3v1h-3zM518 87h3v1h-3zM524 87h3v1h-3zM530 87h3v1h-3zM536 87h3v1h-3zM542 87h3v1h-3zM548 87h3v1h-3zM554 87h3v1h-3zM560 87h3v1h-3zM566 87h3v1h-3zM572 87h3v1h-3zM578 87h3v1h-3zM584 87h3v1h-3zM590 87h3v1h-3zM596 87h3v1h-3zM602 87h3v1h-3z" fill="#000"/>
<path d="M56 75h3v1h-3zM62 75h3v1h-3zM68 75h3v1h-3zM74 75h3v1h-3zM80 75h3v1h-3zM86 75h3v1h-3zM92 75h3v1h-3zM98 75h3v1h-3zM104 75h3v1h-3zM110 75h3v1h-3zM116 75h3v1h-3zM122 75h3v1h-3zM128 75h3v1h-3zM134 75h3v1h-3zM140 75h3v1h-3zM146 75h3v1h-3zM152 75h3v1h-3zM158 75h3v1h-3zM164 75h3v1h-3zM170 75h3v1h-3zM176 75h3v1h-3zM182 75h3v1h-3zM188 75h3v1h-3zM194 75h3v1h-3zM200 75h3v1h-3zM206 75h3v1h-3zM212 75h3v1h-3zM218 75h3v1h-3zM224 75h3v1h-3zM230 75h3v1h-3zM236 75h3v1h-3zM242 75h3v1h-3zM248 75h3v1h-3zM254 75h3v1h-3zM260 75h3v1h-3zM266 75h3v1h-3zM272 75h3v1h-3zM278 75h3v1h-3zM284 75h3v1h-3zM290 75h3v1h-3zM296 75h3v1h-3zM302 75h3v1h-3zM308 75h3v1h-3zM314 75h3v1h-3zM320 75h3v1h-3zM326 75h3v1h-3zM332 75h3v1h-3zM338 75h3v1h-3zM344 75h3v1h-3zM350 75h3v1h-3zM356 75h3v1h-3zM362 75h3v1h-3zM368 75h3v1h-3zM374 75h3v1h-3zM380 75h3v1h-3zM386 75h3v1h-3zM392 75h3v1h-3zM398 75h3v1h-3zM404 75h3v1h-3zM410 75h3v1h-3zM416 75h3v1h-3zM422 75h3v1h-3zM428 75h3v1h-3zM434 75h3v1h-3zM440 75h3v1h-3zM446 75h3v1h-3zM452 75h3v1h-3zM458 75h3v1h-3zM464 75h3v1h-3zM470 75h3v1h-3zM476 75h3v1h-3zM482 75h3v1h-3zM488 75h3v1h-3zM494 75h3v1h-3zM500 75h3v1h-3zM506 75h3v1h-3zM512 75h3v1h-3zM518 75h3v1h-3zM524 75h3v1h-3zM530 75h3v1h-3zM536 75h3v1h-3zM542 75h3v1h-3zM548 75h3v1h-3zM554 75h3v1h-3zM560 75h3v1h-3zM566 75h3v1h-3zM572 75h3v1h-3zM578 75h3v1h-3zM584 75h3v1h-3zM590 75h3v1h-3zM596 75h3v1h-3zM602 75h3v1h-3z" fill="#000"/>
<rect x="47" y="299" width="6" height="1" fill="#000"/>
<rect x="47" y="287" width="6" height="1" fill="#000"/>
<rect x="47" y="275" width="6" height="1" fill="#000"/>
<rect x="47" y="264" width="6" height="1" fill="#000"/>
<rect x="47" y="252" width="6" height="1" fill="#000"/>
<rect x="47" y="240" width="6" height="1" fill="#000"/>
<rect x="47" y="228" width="6" height="1" fill="#000"/>
<rect x="47" y="216" width="6" height="1" fill="#000"/>
<rect x="47" y="205" width="6" height="1" fill="#000"/>
<rect x="47" y="193" width="6" height="1" fill="#000"/>
<rect x="47" y="181" width="6" height="1" fill="#000"/>
<rect x="47" y="169" width="6" height="1" fill="#000"/>
<rect x="47" y="157" width="6" height="1" fill="#000"/>
<rect x="47" y="146" width="6" height="1" fill="#000"/>
<rect x="47" y="134" width="6" height="1" fill="#000"/>
<rect x="47" y="122" width="6" height="1" fill="#000"/>
<rect x="47" y="110" width="6" height="1" fill="#000"/>
<rect x="47" y="98" width="6" height="1" fill="#000"/>
<rect x="47" y="87" width="6" height="1" fill="#000"/>
<rect x="47" y="75" width="6" height="1" fill="#000"/>
<rect x="47" y="63" width="6" height="1" fill="#000"/>
<rect x="47" y="63" width="559" height="1" fill="#000"/>
<rect x="47" y="299" width="559" height="1" fill="#000"/>
<rect x="50" y="63" width="1" height="237" fill="#000"/>
<rect x="605" y="63" width="1" height="237" fill="#000"/>
<rect x="72" y="182" width="1" height="3" fill="#000"/>
<rect x="94" y="182" width="1" height="3" fill="#000"/>
<rect x="117" y="182" width="1" height="3" fill="#000"/>
<rect x="139" y="182" width="1" height="3" fill="#000"/>
<rect x="161" y="182" width="1" height="3" fill="#000"/>
<rect x="183" y="182" width="1" height="3" fill="#000"/>
<rect x="205" y="182" width="1" height="3" fill="#000"/>
<rect x="228" y="182" width="1" height="3" fill="#000"/>
<rect x="250" y="182" width="1" height="3" fill="#000"/>
<rect x="272" y="182" width="1" height="3" fill="#000"/>
<rect x="294" y="182" width="1" height="3" fill="#000"/>
<rect x="316" y="182" width="1" height="3" fill="#000"/>
<rect x="339" y="182" width="1" height="3" fill="#000"/>
<rect x="361" y="182" width="1" height="3" fill="#000"/>
<rect x="383" y="182" width="1" height="3" fill="#000"/>
<rect x="405" y="182" width="1" height="3" fill="#000"/>
<rect x="427" y="182" width="1" height="3" fill="#000"/>
<rect x="450" y="182" width="1" height="3" fill="#000"/>
<rect x="472" y="182" width="1" height="3" fill="#000"/>
<rect x="494" y="182" width="1" height="3" fill="#000"/>
<rect x="516" y="182" width="1" height="3" fill="#000"/>
<rect x="538" y="182" width="1" height="3" fill="#000"/>
<rect x="561" y="182" width="1" height="3" fill="#000"/>
<rect x="583" y="182" width="1" height="3" fill="#000"/>
<rect x="54" y="174" width="8" height="8" fill="#000"/>
<rect x="55" y="175" width="6" height="6" fill="#80A8DA"/>
<rect x="61" y="173" width="8" height="9" fill="#000"/>
<rect x="62" y="174" width="6" height="7" fill="#333399"/>
<rect x="76" y="173" width="8" height="9" fill="#000"/>
<rect x="77" y="174" width="6" height="7" fill="#80A8DA"/>
<rect x="83" y="172" width="8" height="10" fill="#000"/>
<rect x="84" y="173" width="6" height="8" fill="#333399"/>
<rect x="98" y="171" width="9" height="11" fill="#000"/>
<rect x="99" y="172" width="7" height="9" fill="#80A8DA"/>
<rect x="106" y="171" width="8" height="11" fill="#000"/>
<rect x="107" y="172" width="6" height="9" fill="#333399"/>
<rect x="121" y="166" width="8" height="16" fill="#000"/>
<rect x="122" y="167" width="6" height="14" fill="#80A8DA"/>
<rect x="128" y="170" width="8" height="12" fill="#000"/>
<rect x="129" y="171" width="6" height="10" fill="#333399"/>
<rect x="143" y="138" width="8" height="44" fill="#000"/>
<rect x="144" y="139" width="6" height="42" fill="#80A8DA"/>
<rect x="150" y="171" width="8" height="11" fill="#000"/>
<rect x="151" y="172" width="6" height="9" fill="#333399"/>
<rect x="165" y="181" width="8" height="26" fill="#000"/>
<rect x="166" y="182" width="6" height="24" fill="#80A8DA"/>
<rect x="172" y="175" width="8" height="7" fill="#000"/>
<rect x="173" y="176" width="6" height="5" fill="#333399"/>
<rect x="187" y="181" width="8" height="6" fill="#000"/>
<rect x="188" y="182" width="6" height="4" fill="#80A8DA"/>
<rect x="194" y="177" width="8" height="5" fill="#000"/>
<rect x="195" y="178" width="6" height="3" fill="#333399"/>
<rect x="209" y="169" width="9" height="13" fill="#000"/>
<rect x="210" y="170" width="7" height="11" fill="#80A8DA"/>
<rect x="217" y="176" width="8" height="6" fill="#000"/>
<rect x="218" y="177" width="6" height="4" fill="#333399"/>
<rect x="232" y="165" width="8" height="17" fill="#000"/>
<rect x="233" y="166" width="6" height="15" fill="#80A8DA"/>
<rect x="239" y="175" width="8" height="7" fill="#000"/>
<rect x="240" y="176" width="6" height="5" fill="#333399"/>
<rect x="254" y="180" width="8" height="2" fill="#000"/>
<rect x="261" y="176" width="8" height="6" fill="#000"/>
<rect x="262" y="177" width="6" height="4" fill="#333399"/>
<rect x="276" y="181" width="8" height="20" fill="#000"/>
<rect x="277" y="182" width="6" height="18" fill="#80A8DA"/>
<rect x="283" y="176" width="8" height="6" fill="#000"/>
<rect x="284" y="177" width="6" height="4" fill="#333399"/>
<rect x="298" y="149" width="8" height="33" fill="#000"/>
<rect x="299" y="150" width="6" height="31" fill="#80A8DA"/>
<rect x="305" y="175" width="8" height="7" fill="#000"/>
<rect x="306" y="176" width="6" height="5" fill="#333399"/>
<rect x="320" y="168" width="9" height="14" fill="#000"/>
<rect x="321" y="169" width="7" height="12" fill="#80A8DA"/>
<rect x="328" y="175" width="8" height="7" fill="#000"/>
<rect x="329" y="176" width="6" height="5" fill="#333399"/>
<rect x="343" y="181" width="8" height="10" fill="#000"/>
<rect x="344" y="182" width="6" height="8" fill="#80A8DA"/>
<rect x="350" y="177" width="8" height="5" fill="#000"/>
<rect x="351" y="178" width="6" height="3" fill="#333399"/>
<rect x="365" y="169" width="8" height="13" fill="#000"/>
<rect x="366" y="170" width="6" height="11" fill="#80A8DA"/>
<rect x="372" y="178" width="8" height="4" fill="#000"/>
<rect x="373" y="179" width="6" height="2" fill="#333399"/>
<rect x="387" y="170" width="8" height="12" fill="#000"/>
<rect x="388" y="171" width="6" height="10" fill="#80A8DA"/>
<rect x="394" y="180" width="8" height="2" fill="#000"/>
<rect x="409" y="181" width="8" height="37" fill="#000"/>
<rect x="410" y="182" width="6" height="35" fill="#80A8DA"/>
<rect x="431" y="70" width="9" height="112" fill="#000"/>
<rect x="432" y="71" width="7" height="110" fill="#80A8DA"/>
<rect x="439" y="180" width="8" height="2" fill="#000"/>
<rect x="454" y="181" width="8" height="78" fill="#000"/>
<rect x="455" y="182" width="6" height="76" fill="#80A8DA"/>
<rect x="461" y="179" width="8" height="3" fill="#000"/>
<rect x="462" y="180" width="6" height="1" fill="#333399"/>
<rect x="476" y="181" width="8" height="4" fill="#000"/>
<rect x="477" y="182" width="6" height="2" fill="#80A8DA"/>
<rect x="483" y="180" width="8" height="2" fill="#000"/>
<rect x="498" y="181" width="8" height="5" fill="#000"/>
<rect x="499" y="182" width="6" height="3" fill="#80A8DA"/>
<rect x="505" y="180" width="8" height="2" fill="#000"/>
<rect x="520" y="181" width="8" height="10" fill="#000"/>
<rect x="521" y="182" width="6" height="8" fill="#80A8DA"/>
<rect x="527" y="179" width="8" height="3" fill="#000"/>
<rect x="528" y="180" width="6" height="1" fill="#333399"/>
<rect x="542" y="154" width="9" height="28" fill="#000"/>
<rect x="543" y="155" width="7" height="26" fill="#80A8DA"/>
<rect x="550" y="178" width="8" height="4" fill="#000"/>
<rect x="551" y="179" width="6" height="2" fill="#333399"/>
<rect x="565" y="181" width="8" height="104" fill="#000"/>
<rect x="566" y="182" width="6" height="102" fill="#80A8DA"/>
<rect x="572" y="181" width="8" height="98" fill="#000"/>
<rect x="573" y="182" width="6" height="96" fill="#333399"/>
<rect x="587" y="181" width="8" height="110" fill="#000"/>
<rect x="588" y="182" width="6" height="108" fill="#80A8DA"/>
<rect x="594" y="181" width="8" height="110" fill="#000"/>
<rect x="595" y="182" width="6" height="108" fill="#333399"/>
<rect x="50" y="181" width="556" height="1" fill="#000"/>
<text x="42.5" y="303" text-anchor="end" font-size="11" font-family="Liberation Sans, sans-serif">-10,0</text>
<text x="42.5" y="291" text-anchor="end" font-size="11" font-family="Liberation Sans, sans-serif">-9,0</text>
<text x="42.5" y="279" text-anchor="end" font-size="11" font-family="Liberation Sans, sans-serif">-8,0</text>
<text x="42.5" y="268" text-anchor="end" font-size="11" font-family="Liberation Sans, sans-serif">-7,0</text>
<text x="42.5" y="256" text-anchor="end" font-size="11" font-family="Liberation Sans, sans-serif">-6,0</text>
<text x="42.5" y="244" text-anchor="end" font-size="11" font-family="Liberation Sans, sans-serif">-5,0</text>
<text x="42.5" y="232" text-anchor="end" font-size="11" font-family="Liberation Sans, sans-serif">-4,0</text>
<text x="42.5" y="220" text-anchor="end" font-size="11" font-family="Liberation Sans, sans-serif">-3,0</text>
<text x="42.5" y="209" text-anchor="end" font-size="11" font-family="Liberation Sans, sans-serif">-2,0</text>
<text x="42.5" y="197" text-anchor="end" font-size="11" font-family="Liberation Sans, sans-serif">-1,0</text>
<text x="42.5" y="185" text-anchor="end" font-size="11" font-family="Liberation Sans, sans-serif">0,0</text>
<text x="42.5" y="173" text-anchor="end" font-size="11" font-family="Liberation Sans, sans-serif">1,0</text>
<text x="42.5" y="161" text-anchor="end" font-size="11" font-family="Liberation Sans, sans-serif">2,0</text>
<text x="42.5" y="150" text-anchor="end" font-size="11" font-family="Liberation Sans, sans-serif">3,0</text>
<text x="42.5" y="138" text-anchor="end" font-size="11" font-family="Liberation Sans, sans-serif">4,0</text>
<text x="42.5" y="126" text-anchor="end" font-size="11" font-family="Liberation Sans, sans-serif">5,0</text>
<text x="42.5" y="114" text-anchor="end" font-size="11" font-family="Liberation Sans, sans-serif">6,0</text>
<text x="42.5" y="102" text-anchor="end" font-size="11" font-family="Liberation Sans, sans-serif">7,0</text>
<text x="42.5" y="91" text-anchor="end" font-size="11" font-family="Liberation Sans, sans-serif">8,0</text>
<text x="42.5" y="79" text-anchor="end" font-size="11" font-family="Liberation Sans, sans-serif">9,0</text>
<text x="42.5" y="67" text-anchor="end" font-size="11" font-family="Liberation Sans, sans-serif">10,0</text>
<text x="9" y="182" font-size="11" font-family="Liberation Sans, sans-serif">%</text>
<text x="62.1" y="319" text-anchor="middle" font-size="11" font-family="Liberation Sans, sans-serif">11.</text>
<text x="84.3" y="319" text-anchor="middle" font-size="11" font-family="Liberation Sans, sans-serif">12.</text>
<text x="105.8" y="319" text-anchor="middle" font-size="11" font-family="Liberation Sans, sans-serif">1.</text>
<text x="128.0" y="319" text-anchor="middle" font-size="11" font-family="Liberation Sans, sans-serif">2.</text>
<text x="150.2" y="319" text-anchor="middle" font-size="11" font-family="Liberation Sans, sans-serif">3.</text>
<text x="172.4" y="319" text-anchor="middle" font-size="11" font-family="Liberation Sans, sans-serif">4.</text>
<text x="194.6" y="319" text-anchor="middle" font-size="11" font-family="Liberation Sans, sans-serif">5.</text>
<text x="216.8" y="319" text-anchor="middle" font-size="11" font-family="Liberation Sans, sans-serif">6.</text>
<text x="239.0" y="319" text-anchor="middle" font-size="11" font-family="Liberation Sans, sans-serif">7.</text>
<text x="261.2" y="319" text-anchor="middle" font-size="11" font-family="Liberation Sans, sans-serif">8.</text>
<text x="283.4" y="319" text-anchor="middle" font-size="11" font-family="Liberation Sans, sans-serif">9.</text>
<text x="306.3" y="319" text-anchor="middle" font-size="11" font-family="Liberation Sans, sans-serif">10.</text>
<text x="328.5" y="319" text-anchor="middle" font-size="11" font-family="Liberation Sans, sans-serif">11.</text>
<text x="350.7" y="319" text-anchor="middle" font-size="11" font-family="Liberation Sans, sans-serif">12.</text>
<text x="372.2" y="319" text-anchor="middle" font-size="11" font-family="Liberation Sans, sans-serif">1.</text>
<text x="394.4" y="319" text-anchor="middle" font-size="11" font-family="Liberation Sans, sans-serif">2.</text>
<text x="416.6" y="319" text-anchor="middle" font-size="11" font-family="Liberation Sans, sans-serif">3.</text>
<text x="438.8" y="319" text-anchor="middle" font-size="11" font-family="Liberation Sans, sans-serif">4.</text>
<text x="461.0" y="319" text-anchor="middle" font-size="11" font-family="Liberation Sans, sans-serif">5.</text>
<text x="483.2" y="319" text-anchor="middle" font-size="11" font-family="Liberation Sans, sans-serif">6.</text>
<text x="505.4" y="319" text-anchor="middle" font-size="11" font-family="Liberation Sans, sans-serif">7.</text>
<text x="527.6" y="319" text-anchor="middle" font-size="11" font-family="Liberation Sans, sans-serif">8.</text>
<text x="549.8" y="319" text-anchor="middle" font-size="11" font-family="Liberation Sans, sans-serif">9.</text>
<text x="572.7" y="319" text-anchor="middle" font-size="11" font-family="Liberation Sans, sans-serif">10.</text>
<text x="594.9" y="319" text-anchor="middle" font-size="11" font-family="Liberation Sans, sans-serif">11.</text>
<text x="71.5" y="334" text-anchor="middle" font-size="11" font-family="Liberation Sans, sans-serif">2006</text>
<text x="251" y="334" text-anchor="middle" font-size="11" font-family="Liberation Sans, sans-serif">2007</text>
<text x="492.3" y="334" text-anchor="middle" font-size="11" font-family="Liberation Sans, sans-serif">2008</text>
<text transform="translate(307.5,37) scale(1,1.1)" text-anchor="middle" font-size="13" font-weight="bold" font-style="italic" font-family="Liberation Sans, sans-serif">Industrial production</text>
<text transform="translate(308.8,54) scale(0.9945,1.1)" text-anchor="middle" font-size="13" font-style="italic" font-family="Liberation Sans, sans-serif">Month-on-month change in trend and seasonally adjusted (SA) data</text>
<rect x="197" y="359" width="264" height="22" fill="#000"/>
<rect x="198" y="360" width="262" height="20" fill="#fff"/>
<rect x="246" y="365" width="8" height="8" fill="#000"/>
<rect x="247" y="366" width="6" height="6" fill="#80A8DA"/>
<rect x="370" y="365" width="8" height="8" fill="#000"/>
<rect x="371" y="366" width="6" height="6" fill="#333399"/>
<text x="257.5" y="373" font-size="12" font-style="italic" font-family="Liberation Sans, sans-serif">SA</text>
<text x="381.5" y="373" font-size="12" letter-spacing="0.3" font-style="italic" font-family="Liberation Sans, sans-serif">Trend</text>
<rect x="53" y="65" width="46" height="16" fill="#fff"/>
<g shape-rendering="geometricPrecision">
<path d="M60.5 67.2H70V71.1H60.2V76.2H70V79.7H60.5L56.6 76.2V71.3Z" fill="#0c1c62"/>
<path d="M61.8 66H67.2V67.5H61.8Z" fill="#0c1c62"/>
<path d="M62.6 66.4L64.5 68.2L66.4 66.4" stroke="#8d9cc4" stroke-width="0.9" fill="none"/>
<path d="M75.2 67.4H84.7V76L80.8 79.8H71.1V71.2Z" fill="#0c1c62"/>
<rect x="75.2" y="71" width="10" height="1" fill="#fff"/>
<rect x="71" y="75.2" width="9.8" height="1" fill="#fff" fill-opacity="0.55"/>
<path d="M86.1 67H90V76.4H94.7V67H98.8V77L96 79.7H89.6L86.1 77.3Z" fill="#0c1c62"/>
<path d="M88.6 67H91.8L89.2 69.6Z" fill="#fff" fill-opacity="0.6"/>
<path d="M90.6 69.6L93.4 67H94.4L91.6 69.8Z" fill="#0c1c62"/>
</g>
</svg>
</body></html>
